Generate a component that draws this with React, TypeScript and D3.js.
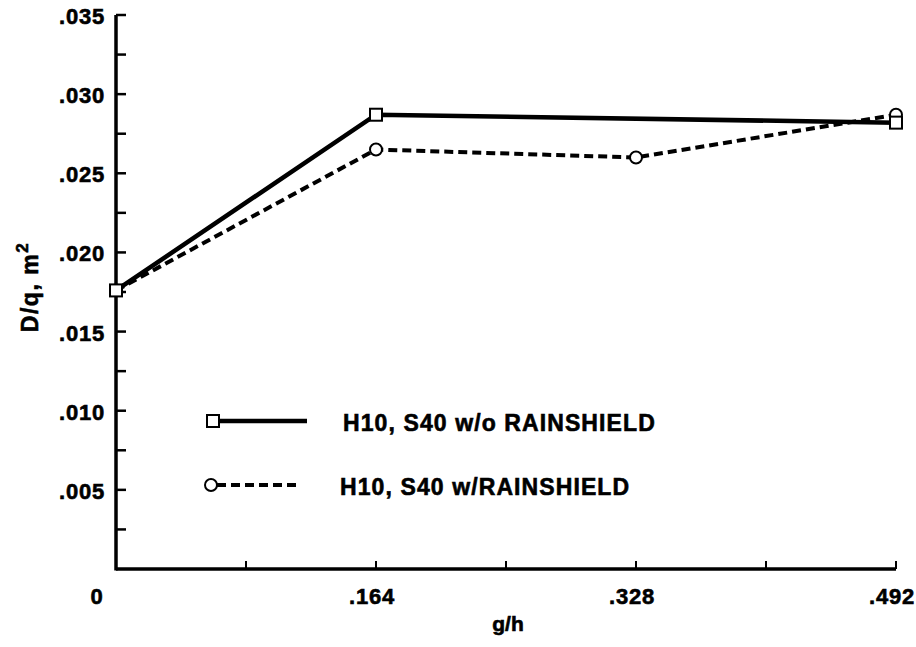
import React from "react";
import * as d3 from "d3";

const xTickValues = [0, 0.082, 0.164, 0.246, 0.328, 0.41, 0.492];
const xTickLabels = ["0", "", ".164", "", ".328", "", ".492"];
const yTickValues = [0.0025, 0.005, 0.0075, 0.01, 0.0125, 0.015, 0.0175, 0.02, 0.0225, 0.025, 0.0275, 0.03, 0.0325, 0.035];
const yLabelValues = [0.005, 0.01, 0.015, 0.02, 0.025, 0.03, 0.035];
const yLabelTexts = [".005", ".010", ".015", ".020", ".025", ".030", ".035"];

const solidX = [0, 0.164, 0.492];
const solidY = [0.0176, 0.0287, 0.0282];
const dashX = [0, 0.164, 0.328, 0.492];
const dashY = [0.0176, 0.0265, 0.026, 0.0287];

const legendLabels = ["H10, S40 w/o RAINSHIELD", "H10, S40 w/RAINSHIELD"];

const W = 916;
const H = 647;
const FONT = "'Liberation Sans', Arial, Helvetica, sans-serif";

export default function App() {
  const x = d3.scaleLinear().domain([0, 0.492]).range([116, 896]);
  const y = d3.scaleLinear().domain([0, 0.035]).range([569, 15]);
  const line = d3
    .line<[number, number]>()
    .x((d) => x(d[0]))
    .y((d) => y(d[1]));
  const solidPts: [number, number][] = solidX.map((v, i) => [v, solidY[i]]);
  const dashPts: [number, number][] = dashX.map((v, i) => [v, dashY[i]]);
  const sq = 12;
  const r = 6;
  const textStroke = { stroke: "#000", strokeWidth: 0.6 };

  return (
    <svg
      width={W}
      height={H}
      style={{ position: "absolute", left: 0, top: 0, background: "#fff" }}
      fontFamily={FONT}
      fontWeight="bold"
    >
      <rect x={0} y={0} width={W} height={H} fill="#fff" />
      {/* axes */}
      <line x1={x(0)} y1={y(0)} x2={x(0.492)} y2={y(0)} stroke="#000" strokeWidth={3.5} />
      <line x1={x(0)} y1={y(0) + 1.5} x2={x(0)} y2={y(0.035)} stroke="#000" strokeWidth={3.5} />
      {yTickValues.map((v, i) => (
        <line key={"yt" + i} x1={x(0)} x2={x(0) + 10} y1={y(v)} y2={y(v)} stroke="#000" strokeWidth={2.5} />
      ))}
      {xTickValues.slice(1).map((v, i) => (
        <line key={"xt" + i} x1={x(v)} x2={x(v)} y1={y(0)} y2={y(0) - 8} stroke="#000" strokeWidth={2} />
      ))}
      {yLabelValues.map((v, i) => (
        <text
          key={"yl" + i}
          x={105}
          y={y(v) + 9}
          textAnchor="end"
          fontSize={22}
          letterSpacing={0.8}
          fill="#000"
          {...textStroke}
        >
          {yLabelTexts[i]}
        </text>
      ))}
      {xTickValues.map((v, i) =>
        xTickLabels[i] ? (
          <text
            key={"xl" + i}
            x={i === 0 ? 97 : x(v) - 4}
            y={604}
            textAnchor="middle"
            fontSize={22}
            letterSpacing={0.8}
            fill="#000"
            {...textStroke}
          >
            {xTickLabels[i]}
          </text>
        ) : null
      )}
      <text x={508} y={631} textAnchor="middle" fontSize={21} fill="#000" {...textStroke}>
        g/h
      </text>
      <text
        transform={`translate(38,${287}) rotate(-90)`}
        textAnchor="middle"
        fontSize={23}
        letterSpacing={1.5}
        fill="#000"
        {...textStroke}
      >
        D/q, m<tspan dy={-10} fontSize={17}>2</tspan>
      </text>

      {/* series */}
      <path d={line(dashPts) || ""} fill="none" stroke="#000" strokeWidth={4} strokeDasharray="9,5" />
      <path d={line(solidPts) || ""} fill="none" stroke="#000" strokeWidth={4.5} />
      {dashPts.map((p, i) => (
        <circle key={"c" + i} cx={x(p[0])} cy={y(p[1])} r={r} fill="#fff" stroke="#000" strokeWidth={2} />
      ))}
      {solidPts.map((p, i) => (
        <rect
          key={"s" + i}
          x={x(p[0]) - sq / 2}
          y={y(p[1]) - sq / 2}
          width={sq}
          height={sq}
          fill="#fff"
          stroke="#000"
          strokeWidth={2}
        />
      ))}

      {/* legend */}
      <line x1={218} x2={307} y1={421} y2={421} stroke="#000" strokeWidth={4.5} />
      <rect x={213 - sq / 2} y={421 - sq / 2} width={sq} height={sq} fill="#fff" stroke="#000" strokeWidth={2} />
      <text x={343} y={431} fontSize={23} letterSpacing={1.1} fill="#000" {...textStroke}>
        {legendLabels[0]}
      </text>
      <line x1={217} x2={301} y1={485} y2={485} stroke="#000" strokeWidth={4} strokeDasharray="9,5" />
      <circle cx={211} cy={485} r={r} fill="#fff" stroke="#000" strokeWidth={2} />
      <text x={340} y={495} fontSize={23} letterSpacing={1.1} fill="#000" {...textStroke}>
        {legendLabels[1]}
      </text>
    </svg>
  );
}
